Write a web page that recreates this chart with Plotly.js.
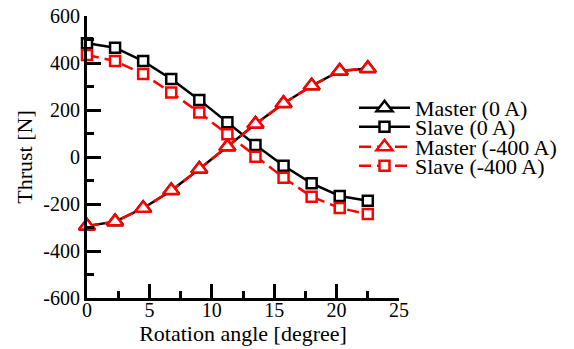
<!DOCTYPE html>
<html><head><meta charset="utf-8">
<script src="https://cdn.plot.ly/plotly-3.0.1.min.js"></script>
<style>html,body{margin:0;padding:0;background:#fff}</style>
</head><body><div id="chart" style="width:574px;height:349px"></div>
<script>
const angle = [0, 2.25, 4.5, 6.75, 9, 11.25, 13.5, 15.75, 18, 20.25, 22.5];
const master0A = [-294, -275, -218, -143, -51, 44, 140, 228, 303, 366, 377];
const slave0A = [484, 465, 408, 332, 243, 148, 51, -37, -112, -166, -186];
const master400A = [-294, -275, -218, -143, -51, 44, 140, 228, 303, 366, 377];
const slave400A = [434, 408, 353, 274, 189, 97, 1, -88, -169, -217, -243];
const seriesNames = ["Master (0 A)", "Slave (0 A)", "Master (-400 A)", "Slave (-400 A)"];
const xTicks = [0, 5, 10, 15, 20, 25];
const yTicks = [-600, -400, -200, 0, 200, 400, 600];

const FONT = "Liberation Serif";
function tr(y, name, color, dash, symbol, size, leg) {
  return {
    x: angle, y: y, name: name, type: "scatter", mode: "lines+markers",
    line: {color: color, width: 2.5, dash: dash},
    marker: {symbol: symbol, size: size, color: "#fff", line: {color: color, width: 2.5}},
    legend: leg, cliponaxis: false
  };
}
const data = [
  tr(master0A, seriesNames[0], "#000", "solid", "triangle-up", 14, "legend"),
  tr(slave0A, seriesNames[1], "#000", "solid", "square", 10, "legend2"),
  tr(master400A, seriesNames[2], "#ff0000", "12px,6px", "triangle-up", 14, "legend3"),
  tr(slave400A, seriesNames[3], "#ff0000", "12px,6px", "square", 10, "legend4")
];
const L = 87, R = 399, T = 16, B = 298;
function legPos(py) { return (B - py) / (B - T); }
function leg(py) {
  return {x: (354 - L) / (R - L), xanchor: "left", y: legPos(py), yanchor: "middle",
    itemwidth: 51,
    bgcolor: "rgba(0,0,0,0)", borderwidth: 0, font: {family: FONT, size: 22, color: "#000"}};
}
const axisCommon = {
  showline: true, linecolor: "#000", linewidth: 3, mirror: false,
  ticks: "inside", ticklen: 14, tickwidth: 3, tickcolor: "#000",
  showgrid: false, zeroline: false,
  tickfont: {family: FONT, size: 20, color: "#000"}
};
const layout = {
  width: 574, height: 349,
  margin: {l: L, r: 574 - R, t: T, b: 349 - B, pad: 0},
  paper_bgcolor: "#fff", plot_bgcolor: "#fff",
  font: {family: FONT, color: "#000"},
  showlegend: true,
  xaxis: Object.assign({}, axisCommon, {
    range: [0, 25], tickvals: xTicks, ticktext: xTicks.map(String),
    ticklabelstandoff: -8,
    minor: {dtick: 2.5, ticks: "inside", ticklen: 7, tickwidth: 3, tickcolor: "#000"},
    title: {text: "Rotation angle [degree]", font: {family: FONT, size: 22, color: "#000"}, standoff: 4}
  }),
  yaxis: Object.assign({}, axisCommon, {
    range: [-600, 600], tickvals: yTicks, ticktext: yTicks.map(String),
    minor: {dtick: 100, ticks: "inside", ticklen: 7, tickwidth: 3, tickcolor: "#000"},
    title: {text: "Thrust [N]", font: {family: FONT, size: 22, color: "#000"}, standoff: 5}
  }),
  legend: leg(108), legend2: leg(127), legend3: leg(147), legend4: leg(166)
};
Plotly.newPlot("chart", data, layout, {displayModeBar: false, staticPlot: true});
</script></body></html>
